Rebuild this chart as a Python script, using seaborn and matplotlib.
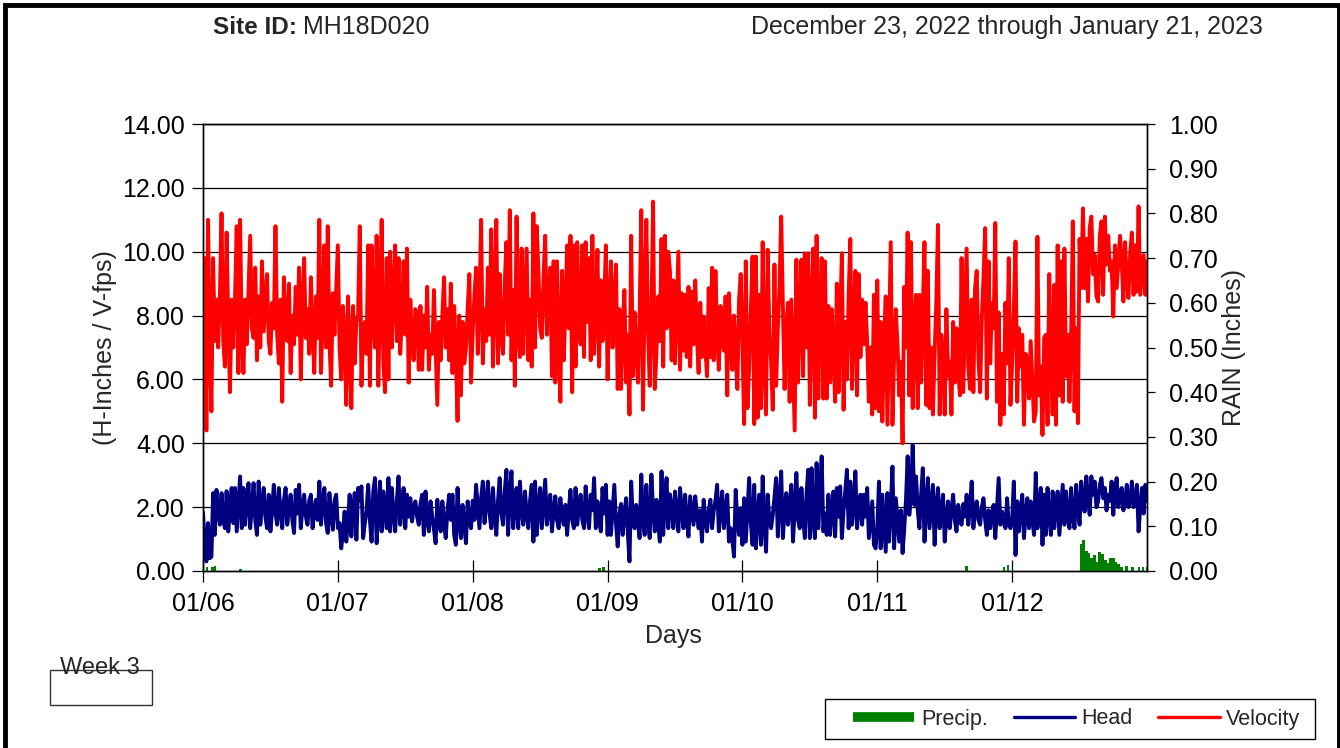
import numpy as np
import pandas as pd
import matplotlib
matplotlib.use("Agg")
import matplotlib.pyplot as plt
from matplotlib.patches import Rectangle
from matplotlib.lines import Line2D
import seaborn as sns

# ---------------- data ----------------
day_labels = ["01/06", "01/07", "01/08", "01/09", "01/10", "01/11", "01/12"]

# Velocity (fps), ~80 readings per day
vel_d0 = [6.2, 9.8, 4.4, 11.0, 7.0, 5.0, 9.8, 7.2, 8.5, 7.0, 8.6, 11.2, 7.2, 6.4, 10.6, 7.8, 5.6, 8.5, 7.0, 8.6,
          10.8, 6.2, 11.0, 7.4, 6.2, 8.5, 7.1, 8.8, 10.5, 7.6, 7.3, 9.5, 6.6, 8.6, 7.0, 9.7, 7.5, 8.4, 9.3, 7.2,
          6.8, 8.4, 7.6, 10.8, 7.4, 6.5, 8.5, 5.3, 9.2, 7.6, 7.2, 9.0, 6.2, 8.0, 7.1, 8.9, 7.4, 9.5, 6.0, 8.3,
          9.8, 7.3, 8.2, 6.8, 9.2, 7.5, 6.2, 8.6, 7.3, 11.0, 6.2, 8.0, 10.2, 7.0, 10.8, 7.2, 5.8, 8.7, 7.4, 8.8]
vel_d1 = [10.2, 7.0, 6.0, 8.3, 7.2, 5.2, 8.6, 7.0, 5.1, 8.3, 6.5, 7.8, 8.0,
          10.8, 5.8, 7.5, 7.8, 6.8, 10.2, 5.8, 10.2, 8.0, 7.0, 10.5, 5.8, 8.5, 11.0, 6.5, 5.6, 9.8, 6.0, 10.0,
          7.0, 8.8, 10.2, 7.2, 9.8, 6.8, 8.0, 9.7, 7.4, 10.1, 5.9, 8.5, 7.2, 6.6, 8.2, 7.9, 6.3, 8.3, 6.3, 8.0,
          7.0, 8.9, 6.3, 7.4, 6.8, 8.8, 7.0, 5.2, 7.8, 6.6, 8.0, 9.2, 7.0, 8.2, 6.6, 9.0, 6.2, 8.3, 6.8, 4.7,
          8.0, 5.5, 7.8, 6.5, 7.0, 8.2, 9.3, 5.9]
vel_d2 = [7.5, 8.6, 9.5, 6.8, 8.4, 11.0, 6.5, 8.2, 7.2, 9.5, 7.4, 10.7, 6.4, 8.5, 11.0, 6.5, 9.3, 7.4, 6.8, 9.0,
          10.3, 7.4, 11.3, 6.6, 8.8,
          5.8, 11.1, 7.5, 6.7, 10.1, 6.8, 8.4, 10.1, 6.6, 8.5, 6.4, 11.2, 7.0, 10.8, 9.4, 7.6, 7.3, 9.2, 10.5,
          7.4, 8.6, 9.5, 6.1, 9.7, 5.9, 9.7, 7.2, 5.3, 9.4, 6.6, 8.2, 10.2, 7.6, 10.5, 5.6, 10.2, 6.4, 10.3, 7.9,
          7.1, 10.2, 6.7, 10.3, 7.8, 9.8, 6.6, 10.5, 6.8, 8.0, 10.06, 6.4, 9.1, 7.2, 8.4, 10.2]
vel_d3 = [6.0, 8.3, 9.7, 7.0, 8.4, 9.6, 5.7, 8.2, 5.7, 7.6, 8.8, 5.9, 7.4, 4.9, 10.5, 6.1, 8.1, 6.9, 5.9, 8.0,
          11.3, 5.05, 8.4, 11.0, 7.6, 5.8, 8.0, 11.57, 5.7, 6.8, 8.6, 7.2, 10.4, 6.4, 10.5, 7.6, 10.0, 9.4,
          6.6, 9.1, 6.5, 8.2, 10.0, 6.3, 8.7, 6.9, 8.65, 6.7, 8.9, 6.4, 8.75, 7.1, 9.1, 7.4, 6.2, 8.4, 6.7, 7.97,
          7.0, 6.1, 8.86, 6.7, 9.5, 6.6, 9.4, 7.4, 6.3, 8.3, 7.2, 6.9, 8.6, 5.5, 8.7, 7.2, 6.3, 8.0, 6.8, 5.7,
          8.5, 9.3]
vel_d4 = [7.1, 4.6, 9.7, 5.1, 6.4, 8.2, 9.85, 4.6, 9.85, 4.8, 8.65, 5.1, 10.3, 6.56, 4.9, 10.06, 7.4, 6.56, 5.05,
          9.6, 5.8, 7.6, 8.9, 11.1, 8.3, 5.7, 7.6, 8.4, 5.3, 8.5, 6.4, 4.4, 9.75, 5.9, 8.0, 9.75, 6.1, 9.95, 7.0,
          9.95, 5.2, 8.2, 10.1, 4.8, 10.5, 5.4, 8.2, 9.8, 5.4,
          9.7, 5.4, 8.3, 5.9, 8.2, 6.8, 5.3, 9.0, 5.6, 8.0, 9.95, 5.05, 7.8, 6.0, 8.6, 10.4, 5.7, 7.9, 9.4, 5.5,
          9.3, 6.7, 8.5, 7.1, 8.4, 7.2, 5.3, 7.0, 4.9, 8.65, 5.1]
vel_d5 = [9.1, 5.0, 7.8, 4.68, 7.2, 8.6, 4.58, 7.4, 10.3, 4.58, 6.8, 8.2, 7.1, 5.5, 6.56, 4.0, 8.9, 7.0, 10.6,
          5.5, 10.3, 5.1, 7.6, 8.65, 5.1, 8.65, 5.9, 8.2, 10.3, 5.2, 9.4, 5.1, 7.0, 4.9, 6.8, 8.4, 10.84, 4.9,
          7.4, 6.56, 4.9, 8.2, 6.1, 6.56, 4.9, 7.8, 5.9, 7.6, 6.3, 5.5, 9.8, 5.6, 7.8, 10.1, 6.4, 5.7, 8.5, 5.6,
          8.86, 9.4, 6.7, 5.6, 7.9, 9.2, 10.74, 5.4,
          9.7, 6.5, 8.4, 7.6, 10.9, 5.3, 8.1, 4.58, 6.8, 4.9, 8.4, 6.5, 9.8, 5.2]
vel_d6 = [6.5, 8.2, 10.32, 5.3, 7.6, 6.4, 7.4, 4.58, 6.8, 6.56, 5.4, 7.2, 5.9, 4.68, 5.0, 10.47, 5.5, 6.4, 4.26,
          7.3, 7.4, 4.58, 9.3, 6.8, 4.9, 8.96, 4.58, 10.2, 5.5, 9.7, 5.3, 10.1, 6.1, 7.4, 5.3, 7.4, 10.95, 5.0,
          7.6, 4.63, 10.4, 8.86, 11.36, 8.86, 10.4, 8.44, 10.74, 11.1, 9.3, 9.9, 8.6, 8.44, 10.5, 10.95, 8.65,
          11.1, 9.6, 10.5, 9.4, 9.7, 7.97, 10.2, 8.86, 9.7, 10.5, 9.7, 8.44, 10.3, 9.07, 8.55, 9.9, 10.6, 8.65,
          10.2, 8.75, 11.42, 8.65, 9.28, 9.9, 8.65, 9.7]

# Head (inches)
head_d0 = [1.85, 0.9, 0.3, 1.5, 0.4, 0.45, 2.44, 1.13, 2.54, 1.9, 1.45, 2.44, 1.6, 1.34, 2.5, 1.24, 2.0, 2.6, 1.5,
           2.6, 1.24, 2.1, 2.96, 1.34, 2.6, 1.45, 2.2, 2.75, 1.34, 2.0, 2.75, 1.6, 1.13, 2.8, 1.45, 2.1, 2.6, 1.7,
           1.34, 2.39, 1.24, 1.9, 2.7, 1.8, 1.45, 2.6, 1.9, 1.34, 2.2, 2.6, 1.45, 2.0, 2.39, 1.6, 1.19, 2.54, 1.8,
           2.7, 1.34, 2.0, 2.39, 1.7, 1.45, 2.2, 2.39, 1.34, 1.9, 2.23, 1.6, 2.8, 1.45, 2.1, 2.6, 1.5, 1.19, 2.44,
           1.7, 1.29, 2.2, 2.39]
head_d1 = [1.34, 1.5, 0.71, 1.2, 1.86, 0.92, 1.6, 2.39, 1.08, 1.9, 2.44, 0.98, 2.6,
           2.2, 2.65, 1.03, 1.5, 1.86, 2.7, 1.6, 0.92, 2.49, 2.91, 0.87, 1.9, 2.8, 1.24, 2.49, 1.8, 1.34, 2.91,
           1.24, 2.6, 1.8, 1.24, 2.2, 2.96, 1.45, 2.0, 2.6, 1.34, 2.39, 1.7, 2.28, 1.55, 2.0, 2.18, 1.7, 1.45,
           2.1, 2.39, 1.13, 2.49, 1.6, 1.24, 2.18, 1.7, 1.3, 0.87, 2.23, 1.6, 1.24, 2.18, 1.5, 1.03, 1.9, 2.39,
           1.6, 2.39, 1.13, 0.82, 2.6, 1.5, 1.03, 2.07, 1.4, 0.87, 2.18, 1.6, 1.34]
head_d2 = [2.2, 1.6, 2.7, 2.0, 1.34, 2.3, 2.8, 1.5, 2.1, 2.8, 1.8, 1.34, 2.6, 1.7, 1.13, 2.2, 2.91, 1.8, 1.45,
           2.49, 3.17, 1.13, 2.4, 3.12, 1.34,
           2.0, 2.6, 1.34, 2.8, 1.9, 1.45, 2.49, 1.8, 1.34, 2.2, 2.7, 0.92, 2.8, 1.13, 2.0, 2.6, 1.34, 2.1, 2.86,
           1.45, 2.0, 2.39, 1.24, 1.9, 2.34, 1.6, 1.34, 2.28, 1.7, 1.45, 2.07, 1.13, 1.9, 2.54, 1.6, 1.34, 2.6,
           1.45, 2.0, 2.39, 1.6, 1.34, 2.65, 1.8, 1.34, 2.39, 1.9, 2.91, 1.34, 2.18, 1.6, 1.24, 2.6, 1.8, 2.7]
head_d3 = [1.13, 2.18, 1.13, 1.9, 2.7, 1.5, 0.77, 1.76, 2.1, 1.13, 1.8, 2.28, 1.2, 0.3, 2.8, 1.6, 1.34, 2.07, 1.5,
           1.03, 3.02, 1.6, 1.13, 2.7, 1.6, 1.03, 3.02, 1.9, 1.24, 2.23, 1.5, 0.92, 3.12, 1.13, 2.2, 2.91, 1.34,
           2.4,
           2.0, 1.34, 2.49, 1.8, 1.24, 2.6, 1.9, 1.34, 2.39, 1.6, 1.08, 2.34, 1.9, 1.45, 2.34, 1.8, 1.34, 1.9,
           0.92, 2.23, 1.6, 1.24, 1.9, 2.23, 1.34, 1.9, 2.2, 2.7, 1.24, 1.9, 2.49, 1.34, 1.9, 2.39, 0.92, 1.34,
           1.0, 0.45, 2.54, 1.6, 1.13, 1.97]
head_d4 = [0.82, 2.28, 0.92, 1.9, 2.91, 1.5, 0.82, 2.7, 0.71, 1.8, 2.39, 0.82, 2.96, 1.5, 0.6, 2.39, 1.6, 1.34,
           1.76, 2.3, 2.91, 1.08, 2.2, 3.12, 1.03, 1.9, 2.44, 1.45, 2.0, 2.7, 0.92, 1.9, 3.07, 1.6, 1.34, 2.6, 1.7,
           1.03, 2.4, 3.17, 1.03, 3.22, 1.6, 1.03, 3.38, 1.34, 2.4, 3.59, 1.24,
           1.8, 1.13, 2.39, 1.13, 1.9, 2.49, 1.08, 2.6, 1.7, 2.65, 1.03, 1.9, 2.5, 3.17, 1.34, 2.8, 1.45, 2.0,
           3.12, 1.34, 2.0, 2.39, 1.45, 2.39, 1.7, 2.6, 1.03, 1.6, 2.18, 0.82, 0.71]
head_d5 = [1.34, 2.8, 0.71, 2.39, 1.5, 0.6, 2.44, 0.92, 2.0, 3.27, 0.71, 2.28, 1.6, 0.92, 1.9, 0.56, 1.34, 2.2,
           3.59, 1.76, 2.39, 3.95, 2.07, 2.96, 1.9, 1.34, 2.4, 3.22, 0.92, 2.0, 2.91, 1.34, 2.0, 2.7, 0.82, 2.0,
           2.6, 1.34, 1.9, 2.39, 0.92, 1.7, 2.18, 1.34, 1.9, 2.39, 1.6, 1.24, 2.07, 1.6, 1.45, 2.1, 1.7, 2.39,
           1.45, 2.0, 2.8, 1.34, 1.9, 2.18, 1.6, 1.45, 2.0, 2.28, 1.6, 1.13,
           1.9, 1.34, 1.8, 2.07, 1.03, 2.0, 2.91, 1.45, 1.86, 1.5, 1.34, 2.28, 1.45, 1.34]
head_d6 = [1.6, 2.8, 0.5, 2.18, 1.24, 1.9, 2.39, 1.03, 1.8, 2.28, 1.34, 2.18, 1.6, 1.13, 3.07, 1.34, 2.0, 2.6,
           0.82, 2.39, 1.13, 2.6, 1.7, 1.13, 2.49, 1.34, 2.0, 2.49, 1.13, 1.9, 2.7, 1.45, 2.49, 1.8, 1.34, 2.6,
           1.7, 1.34, 2.7, 2.0, 1.45, 2.8, 2.2, 1.86, 2.96, 2.3, 1.76, 2.96, 2.39, 2.8, 2.0, 2.18, 2.7, 2.91, 2.28,
           2.6, 1.9, 2.39, 2.2, 2.8, 1.76, 2.5, 2.91, 2.0, 2.4, 2.6, 1.9, 2.18, 2.7, 2.0, 2.18, 2.8, 2.0, 2.18,
           2.7, 1.24, 2.0, 2.6, 1.8, 2.7, 2.18]

# Precipitation (inches): day offset from 01/06 and amount
precip_days = [0.02, 0.06, 0.08, 0.27, 2.93, 2.96, 5.65, 5.93, 5.96,
               6.50, 6.52, 6.54, 6.56, 6.58, 6.60, 6.62, 6.64, 6.66, 6.68, 6.70, 6.72, 6.74, 6.76, 6.78, 6.80,
               6.84, 6.88, 6.93, 6.96, 6.99]
precip_vals = [0.010, 0.008, 0.012, 0.005, 0.007, 0.009, 0.011, 0.009, 0.014,
               0.060, 0.070, 0.045, 0.040, 0.030, 0.035, 0.020, 0.042, 0.038, 0.025, 0.018, 0.030, 0.028,
               0.020, 0.015, 0.010, 0.012, 0.008, 0.008, 0.010, 0.008]

vel_days = [vel_d0, vel_d1, vel_d2, vel_d3, vel_d4, vel_d5, vel_d6]
head_days = [head_d0, head_d1, head_d2, head_d3, head_d4, head_d5, head_d6]


def build(days):
    xs, ys = [], []
    for d, vals in enumerate(days):
        n = len(vals)
        if d == len(days) - 1:
            xs.extend(np.linspace(d, d + 1, n))
        else:
            xs.extend(d + np.arange(n) / n)
        ys.extend(vals)
    return pd.DataFrame({"t": xs, "v": ys})


vel_df = build(vel_days)
head_df = build(head_days)

# ---------------- figure ----------------
sns.set_style("white")
plt.rcParams["font.family"] = ["Liberation Sans", "DejaVu Sans"]

W, H = 1340, 748
fig = plt.figure(figsize=(W / 100, H / 100), dpi=100)
ax = fig.add_axes([203 / W, 1 - 571 / H, (1147 - 203) / W, (571 - 124) / H])
ax2 = ax.twinx()

sns.lineplot(data=head_df, x="t", y="v", ax=ax, color="#000080", lw=2.8,
             estimator=None, sort=False, legend=False, zorder=3)
sns.lineplot(data=vel_df, x="t", y="v", ax=ax, color="#FF0000", lw=2.8,
             estimator=None, sort=False, legend=False, zorder=4)
ax2.bar(precip_days, precip_vals, width=0.02, align="edge", color="#008000", linewidth=0)

ax.set_xlim(0, 7)
ax.set_ylim(0, 14)
ax2.set_ylim(0, 1.0)

ax.set_yticks(np.arange(0, 14.01, 2))
ax.set_yticklabels([f"{v:.2f}" for v in np.arange(0, 14.01, 2)])
ax2.set_yticks(np.arange(0, 1.001, 0.1))
ax2.set_yticklabels([f"{v:.2f}" for v in np.arange(0, 1.001, 0.1)])
ax.set_xticks(range(7))
ax.set_xticklabels(day_labels)

ax.grid(False)
ax2.grid(False)
for yv in np.arange(2, 14.01, 2):
    ax.axhline(yv, color="black", lw=0.9, zorder=1)

for a in (ax, ax2):
    for s in a.spines.values():
        s.set_color("black")
        s.set_linewidth(1.0)

ax.tick_params(axis="y", direction="out", length=8, width=0.9, pad=5, labelsize=18, colors="black", left=True)
ax.tick_params(axis="x", direction="inout", length=16, width=0.9, pad=7, labelsize=18, colors="black", bottom=True)
ax2.tick_params(axis="y", direction="out", length=6, width=0.9, pad=10, labelsize=18, colors="black", right=True)

ax.set_xlabel("Days", fontsize=18)
ax.xaxis.set_label_coords(0.498, -0.118)
ax.set_ylabel("(H-Inches / V-fps)", fontsize=18)
ax.yaxis.set_label_coords(-0.091, 0.5)
ax2.set_ylabel("RAIN (Inches)", fontsize=18)
ax2.yaxis.set_label_coords(1.0795, 0.5)

# header
fig.text(213 / W, 1 - 27 / H, "Site ID:", fontsize=17.5, fontweight="bold", va="center", ha="left")
fig.text(303 / W, 1 - 27 / H, "MH18D020", fontsize=18, va="center", ha="left")
fig.text(1263 / W, 1 - 27 / H, "December 23, 2022 through January 21, 2023", fontsize=18, va="center", ha="right")

# Week 3 box
fig.patches.append(Rectangle((50 / W, 1 - 705 / H), 102 / W, 35 / H, transform=fig.transFigure,
                             fill=False, edgecolor="#333333", lw=1.0))
fig.text(100 / W, 1 - 668 / H, "Week 3", fontsize=17, ha="center", va="center")

# outer frame
fig.patches.append(Rectangle((5 / W, -0.1), 1333.5 / W, 1.1 - 5.5 / H, transform=fig.transFigure,
                             fill=False, edgecolor="black", lw=3.5, clip_on=False))

# legend (frame drawn separately to match the reference box)
fig.patches.append(Rectangle((825 / W, 1 - 739 / H), 490 / W, 40 / H, transform=fig.transFigure,
                             fill=False, edgecolor="black", lw=1.0))
handles = [Line2D([], [], color="#008000", lw=7, solid_capstyle="butt"),
           Line2D([], [], color="#000080", lw=2.4),
           Line2D([], [], color="#FF0000", lw=2.4)]
leg = fig.legend(handles, ["Precip.", "Head", "Velocity"], loc="center left",
                 bbox_to_anchor=(853 / W, 1 - 719 / H), ncol=3, fontsize=15.5,
                 frameon=False, borderpad=0, borderaxespad=0,
                 handlelength=2.85, handletextpad=0.3, columnspacing=1.2)

fig.savefig("out.png", dpi=100)
